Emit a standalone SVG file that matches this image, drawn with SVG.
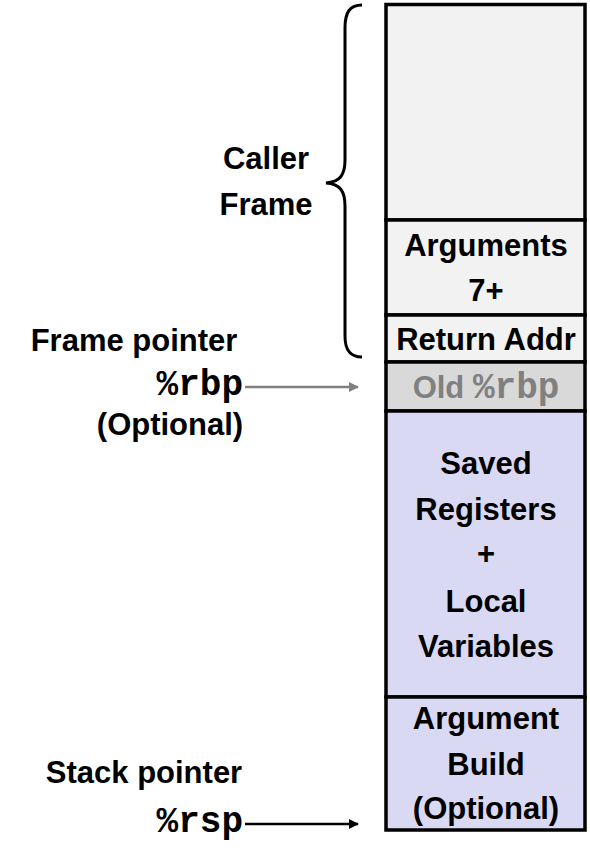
<svg xmlns="http://www.w3.org/2000/svg" width="590" height="848" viewBox="0 0 590 848">
<style>
.t{font-family:"Liberation Sans",Arial,sans-serif;font-weight:bold;font-size:31px;fill:#000;text-anchor:middle}
.m{font-family:"Liberation Mono","Courier New",monospace;font-weight:bold;font-size:36px}
.box{stroke:#000;stroke-width:3.5}
</style>
<defs>
<marker id="ab" markerWidth="10" markerHeight="10" refX="9" refY="5" orient="auto" markerUnits="userSpaceOnUse"><path d="M0,0 L10,5 L0,10 z" fill="#000"/></marker>
<marker id="ag" markerWidth="10" markerHeight="10" refX="9" refY="5" orient="auto" markerUnits="userSpaceOnUse"><path d="M0,0 L10,5 L0,10 z" fill="#808080"/></marker>
</defs>
<g id="caller-top"><rect class="box" x="386" y="4.5" width="199" height="215.5" fill="#f2f2f2"/></g>
<g id="arguments"><rect class="box" x="386" y="220" width="199" height="95" fill="#f2f2f2"/>
<text class="t" x="486" y="256">Arguments</text><text class="t" x="486" y="301">7+</text></g>
<g id="return-addr"><rect class="box" x="386" y="315" width="199" height="47" fill="#f2f2f2"/>
<text class="t" x="486" y="350">Return Addr</text></g>
<g id="old-rbp"><rect class="box" x="386" y="362" width="199" height="49" fill="#d9d9d9"/>
<text class="t" x="486" y="398" style="fill:#808080">Old <tspan class="m">%rbp</tspan></text></g>
<g id="saved-registers"><rect class="box" x="386" y="411" width="199" height="286" fill="#d9d9f3"/>
<text class="t" x="486" y="474">Saved</text><text class="t" x="486" y="520">Registers</text><text class="t" x="486" y="564">+</text><text class="t" x="486" y="612">Local</text><text class="t" x="486" y="657">Variables</text></g>
<g id="argument-build"><rect class="box" x="386" y="697" width="199" height="133" fill="#d9d9f3"/>
<text class="t" x="486" y="729">Argument</text><text class="t" x="486" y="775">Build</text><text class="t" x="486" y="819">(Optional)</text></g>
<g id="caller-frame-label">
<path d="M362,5 C350,5 345,12 345,28 L345,160 C345,175 340,182 326,183 C340,184 345,191 345,206 L345,336 C345,350 350,357 362,357" fill="none" stroke="#000" stroke-width="3"/>
<text class="t" x="266" y="169">Caller</text><text class="t" x="266" y="215">Frame</text></g>
<g id="frame-pointer"><text class="t" x="134" y="351">Frame pointer</text>
<text class="m" x="243" y="395" text-anchor="end">%rbp</text>
<text class="t" x="170" y="435">(Optional)</text></g>
<g id="stack-pointer"><text class="t" x="144" y="783">Stack pointer</text>
<text class="m" x="243" y="832" text-anchor="end">%rsp</text></g>
<g id="connectors">
<line x1="245" y1="387" x2="358" y2="387" stroke="#808080" stroke-width="2.5" marker-end="url(#ag)"/>
<line x1="245" y1="824" x2="358" y2="824" stroke="#000" stroke-width="2.5" marker-end="url(#ab)"/>
</g>
</svg>
